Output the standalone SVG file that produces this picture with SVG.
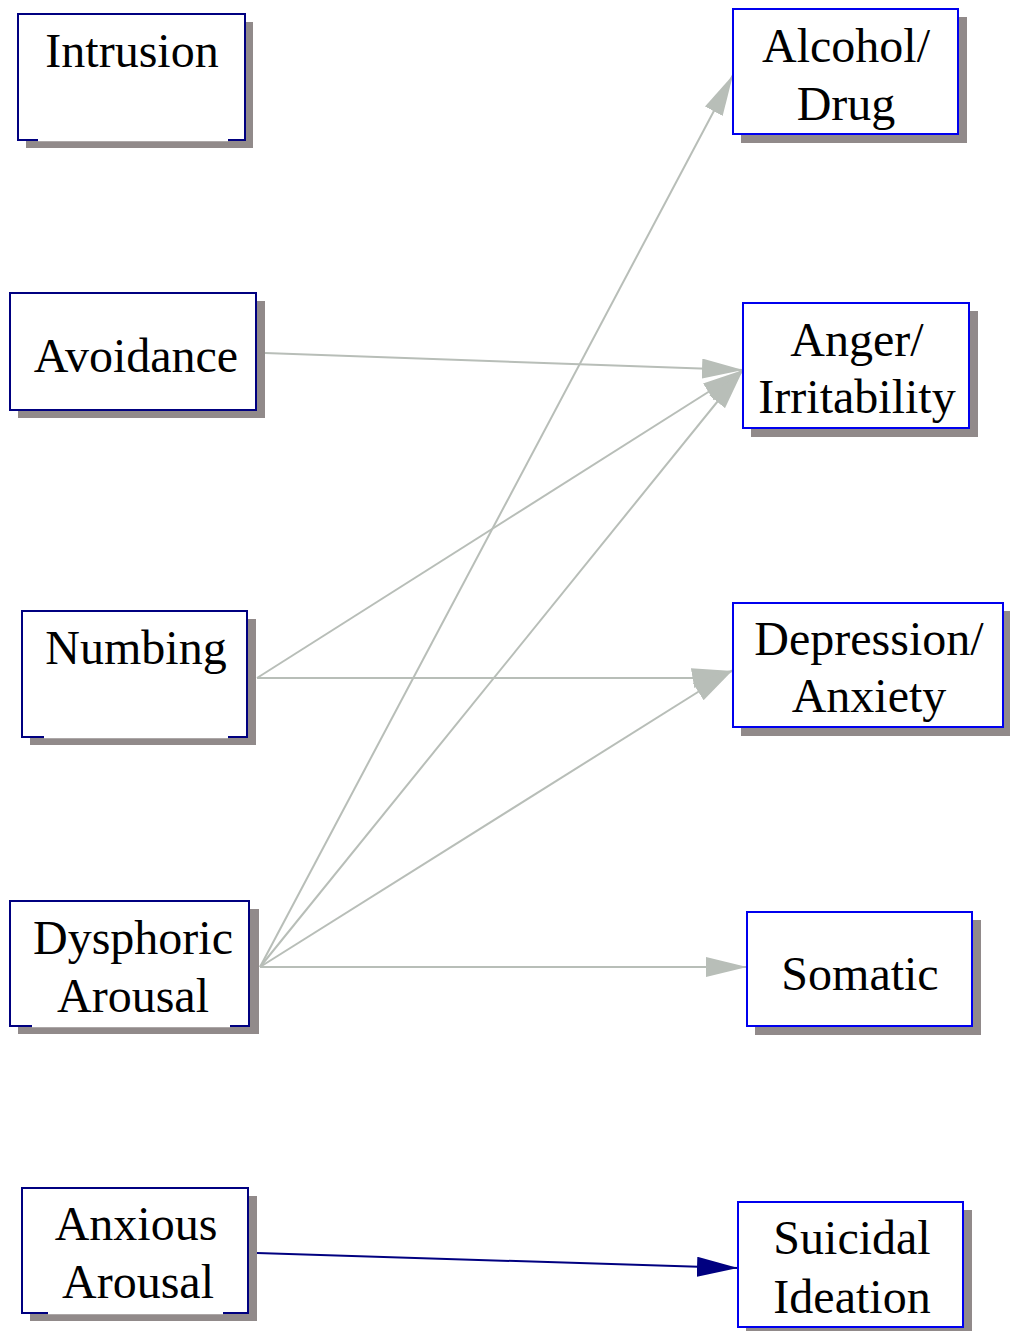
<svg xmlns="http://www.w3.org/2000/svg" width="1010" height="1331" viewBox="0 0 1010 1331">
<defs>
<style>
.shadow{fill:#918a8a;stroke:none}
.lbox{fill:#ffffff;stroke:#000080;stroke-width:2}
.rbox{fill:#ffffff;stroke:#0000ee;stroke-width:2}
.gap{stroke:#ffffff;stroke-width:2.4}
.t{font-family:"Liberation Serif","Times New Roman",serif;font-size:48px;fill:#000000;text-anchor:middle}
.e{fill:none;stroke:#b8beb8;stroke-width:2}
.en{fill:none;stroke:#000080;stroke-width:2}
</style>
<marker id="ag" markerUnits="userSpaceOnUse" markerWidth="42" markerHeight="20" refX="41" refY="10" orient="auto" viewBox="0 0 42 20">
<path d="M0,0 L41,10 L0,20 z" fill="#b8beb8"/>
</marker>
<marker id="an" markerUnits="userSpaceOnUse" markerWidth="42" markerHeight="20" refX="41" refY="10" orient="auto" viewBox="0 0 42 20">
<path d="M0,0 L41,10 L0,20 z" fill="#000080"/>
</marker>
</defs>
<rect width="1010" height="1331" fill="#ffffff"/>

<g id="edges">
<path class="e" d="M265,353 L743,370" marker-end="url(#ag)"/>
<path class="e" d="M257,678 L743,370" marker-end="url(#ag)"/>
<path class="e" d="M257,678 L693,678 L733,671" marker-end="url(#ag)"/>
<path class="e" d="M260,967 L733,75" marker-end="url(#ag)"/>
<path class="e" d="M260,967 L743,370" marker-end="url(#ag)"/>
<path class="e" d="M260,967 L733,670" marker-end="url(#ag)"/>
<path class="e" d="M260,967 L747,967" marker-end="url(#ag)"/>
<path class="en" d="M257,1253 L738,1268" marker-end="url(#an)"/>
</g>

<g id="intrusion">
<rect class="shadow" x="26" y="22" width="227" height="126"/>
<rect class="lbox" x="18" y="14" width="227" height="126"/>
<line class="gap" x1="38" y1="140" x2="228" y2="140"/>
<text class="t" x="132" y="67">Intrusion</text>
</g>

<g id="avoidance">
<rect class="shadow" x="18" y="301" width="247" height="117"/>
<rect class="lbox" x="10" y="293" width="246" height="117"/>
<text class="t" x="136" y="372">Avoidance</text>
</g>

<g id="numbing">
<rect class="shadow" x="30" y="619" width="226" height="126"/>
<rect class="lbox" x="22" y="611" width="225" height="126"/>
<line class="gap" x1="44" y1="737" x2="228" y2="737"/>
<text class="t" x="136" y="664">Numbing</text>
</g>

<g id="dysphoric">
<rect class="shadow" x="18" y="909" width="241" height="125"/>
<rect class="lbox" x="10" y="901" width="239" height="125"/>
<line class="gap" x1="32" y1="1026" x2="230" y2="1026"/>
<text class="t" x="133" y="954">Dysphoric</text>
<text class="t" x="133" y="1012">Arousal</text>
</g>

<g id="anxious">
<rect class="shadow" x="30" y="1196" width="227" height="125"/>
<rect class="lbox" x="22" y="1188" width="226" height="125"/>
<line class="gap" x1="48" y1="1313" x2="223" y2="1313"/>
<text class="t" x="136" y="1240">Anxious</text>
<text class="t" x="138" y="1298">Arousal</text>
</g>

<g id="alcohol">
<rect class="shadow" x="741" y="17" width="226" height="126"/>
<rect class="rbox" x="733" y="9" width="225" height="125"/>
<text class="t" x="846" y="62">Alcohol/</text>
<text class="t" x="846" y="120">Drug</text>
</g>

<g id="anger">
<rect class="shadow" x="751" y="311" width="227" height="126"/>
<rect class="rbox" x="743" y="303" width="226" height="125"/>
<text class="t" x="857" y="356">Anger/</text>
<text class="t" x="857" y="413">Irritability</text>
</g>

<g id="depression">
<rect class="shadow" x="741" y="611" width="270" height="125"/>
<rect class="rbox" x="733" y="603" width="270" height="124"/>
<text class="t" x="869" y="655">Depression/</text>
<text class="t" x="869" y="712">Anxiety</text>
</g>

<g id="somatic">
<rect class="shadow" x="755" y="920" width="226" height="115"/>
<rect class="rbox" x="747" y="912" width="225" height="114"/>
<text class="t" x="860" y="990">Somatic</text>
</g>

<g id="suicidal">
<rect class="shadow" x="746" y="1210" width="226" height="126"/>
<rect class="rbox" x="738" y="1202" width="225" height="125"/>
<text class="t" x="852" y="1254">Suicidal</text>
<text class="t" x="852" y="1313">Ideation</text>
</g>
</svg>
